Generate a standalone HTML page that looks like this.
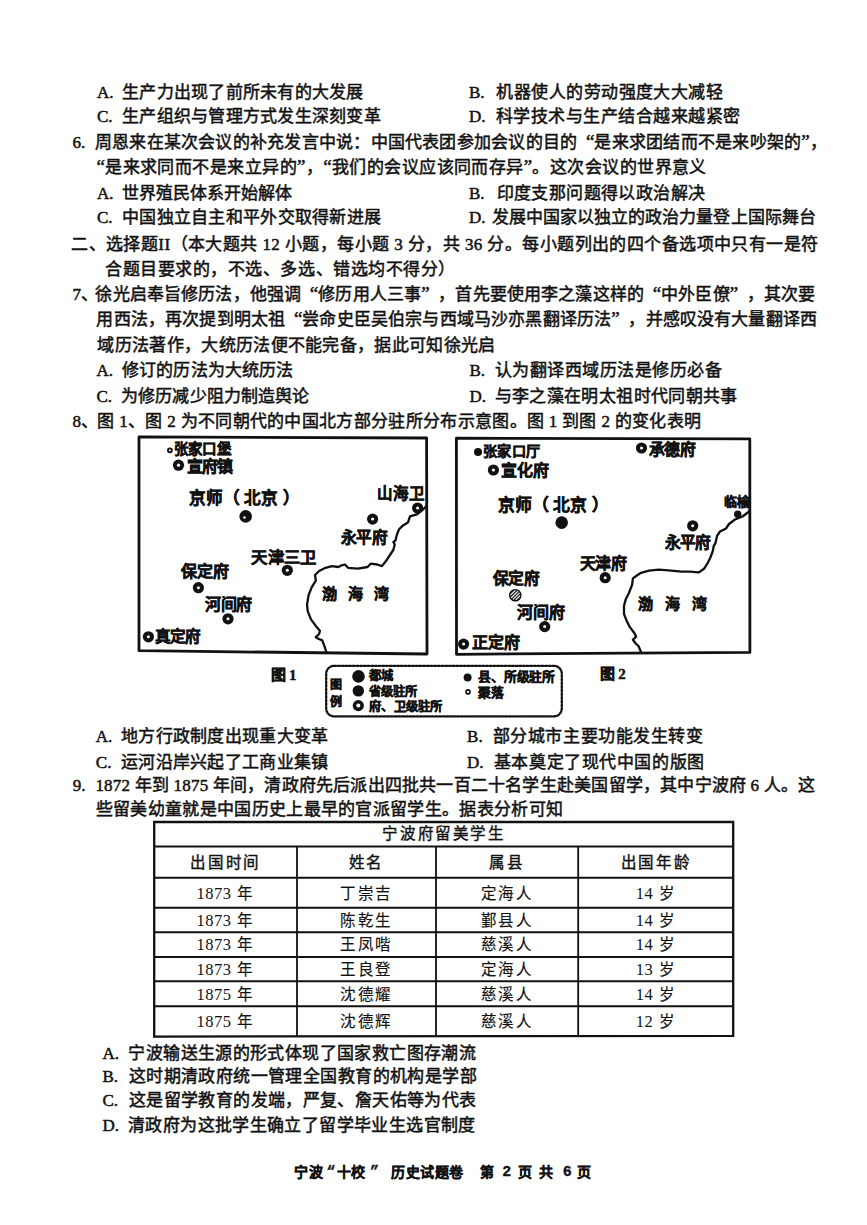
<!DOCTYPE html>
<html lang="zh-CN">
<head>
<meta charset="utf-8">
<style>
html,body{margin:0;padding:0;background:#fff;}
body{width:867px;height:1225px;position:relative;overflow:hidden;color:#111;font-family:"Liberation Serif",serif;}
.l{position:absolute;white-space:nowrap;font-size:17px;line-height:20px;font-weight:400;-webkit-text-stroke:0.5px #111;}
.k{display:inline-block;width:26px;font-family:"Liberation Serif",serif;font-weight:400;letter-spacing:0;-webkit-text-stroke:0.5px #111;}
.n{display:inline-block;width:24px;font-family:"Liberation Serif",serif;font-weight:400;letter-spacing:0;-webkit-text-stroke:0.5px #111;}
.ql{display:inline-block;text-align:right;letter-spacing:0;font-size:19px;line-height:0;}
.qr{display:inline-block;text-align:left;letter-spacing:0;font-size:19px;line-height:0;}
.d{font-family:"Liberation Serif",serif;font-weight:400;-webkit-text-stroke:0.5px #111;}
.m{position:absolute;white-space:nowrap;font-family:"Liberation Sans",sans-serif;font-weight:700;line-height:1;-webkit-text-stroke:0.45px #111;}
.t{position:absolute;white-space:nowrap;font-size:15.5px;line-height:18px;letter-spacing:1.6px;font-weight:400;-webkit-text-stroke:0.15px #111;text-align:center;}
.th{-webkit-text-stroke:0.4px #111;}
.td{font-family:"Liberation Serif",serif;font-weight:400;letter-spacing:0.5px;font-size:16.5px;-webkit-text-stroke:0;}
svg{position:absolute;left:0;top:0;}
.f{position:absolute;white-space:nowrap;font-family:"Liberation Sans",sans-serif;font-weight:700;line-height:1;font-size:14px;-webkit-text-stroke:0.3px #111;}
.fd{font-family:"Liberation Mono",monospace;font-size:15px;font-weight:700;}
</style>
</head>
<body>
<svg width="867" height="1225" viewBox="0 0 867 1225">
<defs>
<pattern id="hatch" width="2.4" height="2.4" patternUnits="userSpaceOnUse" patternTransform="rotate(45)"><rect width="1.2" height="2.4" fill="#111"/></pattern>
</defs>
<g fill="none" stroke="#111" stroke-linejoin="round" stroke-linecap="round">
<!-- map 1 box -->
<path d="M139 436.8 L426.6 438 L427 654 L139 650.7 Z" stroke-width="2.8"/>
<!-- map 1 coast -->
<path d="M426.5 506 L422.4 510.1 L416.9 514.3 L410 516.4 L407.9 522.6 L403 525.4 L398.9 529.5 L396.8 535 L395.4 540.6 L393.4 542 L394.7 544.7 L393.3 550 L386.9 559.7 L382 566.1 L377.2 564.5 L370.7 563.7 L367.5 567 L357.8 568.6 L348.1 567.8 L344.9 564.5 L341.7 565.3 L338.4 567 L332 566.1 L325.5 567.8 L319.1 571 L315 575 L315.8 580.7 L311.8 587.1 L308.6 595.2 L307 604.9 L307.8 611.4 L311 619.4 L315.8 625.9 L319.9 630.7 L319.1 634 L315.8 637.2 L318.3 638.8 L322.3 640.4 L324.7 646.9 L326.3 652" stroke-width="2.3"/>
<!-- map 2 box -->
<path d="M456.4 438.2 L749.8 438.8 L749.9 652.4 L456.5 654.3 Z" stroke-width="2.8"/>
<!-- map 2 coast -->
<path d="M749.7 510 L748.5 512 L742.5 516.5 L735 519.5 L729 524 L726 528.5 L720 531.5 L717 536 L715.5 542.9 L713.7 546.1 L712.8 551 L710.4 557.5 L707.2 563.9 L704 568.8 L699.1 572.3 L689.4 571.7 L681.4 571.7 L668.4 570.4 L658.8 569.6 L649.1 570.7 L641 572.8 L636.1 576 L632.9 578.4 L632.1 584.9 L628.9 593 L625.7 599.4 L624 605.9 L624 614 L626.5 620.4 L629.7 626.9 L634.5 633.3 L636.1 636.6 L632.9 639.8 L635.3 643 L638.6 646.3 L641 652" stroke-width="2.3"/>
<!-- legend box -->
<rect x="326.2" y="665.8" width="235.6" height="50.6" rx="8" stroke-width="2.3" stroke-dasharray="2 1.7"/>
</g>
<!-- table -->
<g stroke="#111" fill="none">
<path d="M154.2 822 L733.2 822 L733.2 1035.8 L154.2 1036.6 Z" stroke-width="2.3"/>
<line x1="154.3" y1="846.5" x2="733.2" y2="846.5" stroke-width="2"/>
<line x1="154.3" y1="877.8" x2="733.2" y2="877.8" stroke-width="2"/>
<line x1="154.3" y1="907.8" x2="733.2" y2="907.8" stroke-width="2"/>
<line x1="154.3" y1="932.2" x2="733.2" y2="932.2" stroke-width="2"/>
<line x1="154.3" y1="957" x2="733.2" y2="957" stroke-width="2"/>
<line x1="154.3" y1="981.3" x2="733.2" y2="981.3" stroke-width="2"/>
<line x1="154.3" y1="1006.2" x2="733.2" y2="1006.2" stroke-width="2"/>
<line x1="297" y1="846.5" x2="297" y2="1036.5" stroke-width="1.8"/>
<line x1="436" y1="846.5" x2="436" y2="1036.5" stroke-width="1.8"/>
<line x1="578.2" y1="846.5" x2="578.2" y2="1036.5" stroke-width="1.8"/>
</g>
<!-- symbols -->
<g fill="#111">
<!-- rings (府卫级): outer r5.3 black with white center r1.9 -->
<g id="rings">
<circle cx="178.5" cy="465.2" r="5.6"/><circle cx="287.3" cy="570.3" r="5.6"/><circle cx="198.4" cy="587.7" r="5.6"/>
<circle cx="228" cy="618.8" r="5.6"/><circle cx="148.4" cy="636.8" r="5.6"/><circle cx="417.6" cy="508" r="5.6"/><circle cx="372.6" cy="519.1" r="5.6"/>
<circle cx="493.4" cy="470" r="5.6"/><circle cx="641.5" cy="448" r="5.6"/><circle cx="692.7" cy="525.8" r="5.6"/><circle cx="605.2" cy="577.7" r="5.6"/>
<circle cx="544.7" cy="626.6" r="5.6"/><circle cx="463.6" cy="644.1" r="5.6"/>
<circle cx="358.3" cy="705.6" r="5.6"/>
</g>
<!-- capital -->
<circle cx="245.7" cy="516.4" r="6.3"/><circle cx="561.7" cy="522.6" r="6.3"/>
<!-- county dots -->
<circle cx="478" cy="452" r="4"/><circle cx="737.7" cy="514.2" r="3.7"/><circle cx="467.6" cy="677.4" r="4"/>
<!-- legend capital and province -->
<circle cx="358.5" cy="676.4" r="6.3"/><circle cx="358.3" cy="690.9" r="5.7"/>
</g>
<g fill="#fff">
<circle cx="178.5" cy="465.2" r="1.6"/><circle cx="287.3" cy="570.3" r="1.5"/><circle cx="198.4" cy="587.7" r="1.5"/>
<circle cx="228" cy="618.8" r="1.5"/><circle cx="148.4" cy="636.8" r="1.5"/><circle cx="417.6" cy="508" r="1.5"/><circle cx="372.6" cy="519.1" r="1.5"/>
<circle cx="493.4" cy="470" r="1.5"/><circle cx="641.5" cy="448" r="1.5"/><circle cx="692.7" cy="525.8" r="1.5"/><circle cx="605.2" cy="577.7" r="1.5"/>
<circle cx="544.7" cy="626.6" r="1.5"/><circle cx="463.6" cy="644.1" r="1.5"/>
<circle cx="358.3" cy="705.6" r="2"/>
<circle cx="244.5" cy="517.5" r="1.2"/>
</g>
<!-- hatched province (map2 保定府) -->
<circle cx="515.3" cy="595.2" r="5.6" fill="url(#hatch)" stroke="#111" stroke-width="1.4"/>
<!-- small rings (聚落) -->
<circle cx="169.9" cy="450.3" r="1.95" fill="#fff" stroke="#111" stroke-width="1.9"/>
<circle cx="468" cy="691.9" r="1.95" fill="#fff" stroke="#111" stroke-width="1.7"/>
</svg>

<div class="l" id="L1A" style="left:97.00px;top:83.10px;letter-spacing:0.259px"><span class="k" style="width:25.0px">A.</span>生产力出现了前所未有的大发展</div>
<div class="l" id="L1B" style="left:469.00px;top:83.10px;letter-spacing:0.451px"><span class="k" style="width:27.4px">B.</span>机器使人的劳动强度大大减轻</div>
<div class="l" id="L2C" style="left:97.00px;top:107.00px;letter-spacing:0.255px"><span class="k" style="width:25.0px">C.</span>生产组织与管理方式发生深刻变革</div>
<div class="l" id="L2D" style="left:469.00px;top:107.00px;letter-spacing:0.482px"><span class="k" style="width:27.0px">D.</span>科学技术与生产结合越来越紧密</div>
<div class="l" id="L3" style="left:72.50px;top:132.72px;letter-spacing:0.227px"><span class="n" style="width:22.4px">6.</span>周恩来在某次会议的补充发言中说：中国代表团参加会议的目的<span class="ql" style="width:17.23px">“</span>是来求团结而不是来吵架的<span class="qr" style="width:8.61px">”</span>，</div>
<div class="l" id="L4" style="left:96.40px;top:158.10px;letter-spacing:0.441px"><span class="qr" style="width:8.72px">“</span>是来求同而不是来立异的<span class="qr" style="width:8.72px">”</span>，<span class="qr" style="width:8.72px">“</span>我们的会议应该同而存异<span class="qr" style="width:8.72px">”</span>。这次会议的世界意义</div>
<div class="l" id="L5A" style="left:97.00px;top:184.28px;letter-spacing:0.051px"><span class="k" style="width:25.0px">A.</span>世界殖民体系开始解体</div>
<div class="l" id="L5B" style="left:469.00px;top:184.28px;letter-spacing:0.406px"><span class="k" style="width:27.5px">B.</span>印度支那问题得以政治解决</div>
<div class="l" id="L6C" style="left:97.00px;top:208.10px;letter-spacing:0.283px"><span class="k" style="width:25.0px">C.</span>中国独立自主和平外交取得新进展</div>
<div class="l" id="L6D" style="left:469.00px;top:208.10px;letter-spacing:0.036px"><span class="k" style="width:23.0px">D.</span>发展中国家以独立的政治力量登上国际舞台</div>
<div class="l" id="L7" style="left:71.20px;top:234.64px;letter-spacing:0.433px">二、选择题<span class="d">II</span>（本大题共 <span class="d">12</span> 小题，每小题 <span class="d">3</span> 分，共 <span class="d">36</span> 分。每小题列出的四个备选项中只有一是符</div>
<div class="l" id="L8" style="left:105.00px;top:260.46px;letter-spacing:0.543px">合题目要求的，不选、多选、错选均不得分）</div>
<div class="l" id="L9" style="left:72.50px;top:285.36px;letter-spacing:0.144px"><span class="n" style="width:22.9px">7、</span>徐光启奉旨修历法，他强调<span class="ql" style="width:17.14px">“</span>修历用人三事<span class="qr" style="width:17.14px">”</span>，首先要使用李之藻这样的<span class="ql" style="width:17.14px">“</span>中外臣僚<span class="qr" style="width:17.14px">”</span>，其次要</div>
<div class="l" id="L10" style="left:96.40px;top:310.46px;letter-spacing:0.160px">用西法，再次提到明太祖<span class="ql" style="width:17.16px">“</span>尝命史臣吴伯宗与西域马沙亦黑翻译历法<span class="qr" style="width:17.16px">”</span>，并感叹没有大量翻译西</div>
<div class="l" id="L11" style="left:97.40px;top:336.10px;letter-spacing:0.315px">域历法著作，大统历法便不能完备，据此可知徐光启</div>
<div class="l" id="L12A" style="left:96.50px;top:361.28px;letter-spacing:0.080px"><span class="k" style="width:25.7px">A.</span>修订的历法为大统历法</div>
<div class="l" id="L12B" style="left:469.40px;top:361.28px;letter-spacing:0.501px"><span class="k" style="width:25.2px">B.</span>认为翻译西域历法是修历必备</div>
<div class="l" id="L13C" style="left:96.50px;top:386.72px;letter-spacing:0.087px"><span class="k" style="width:24.7px">C.</span>为修历减少阻力制造舆论</div>
<div class="l" id="L13D" style="left:469.40px;top:386.72px;letter-spacing:0.368px"><span class="k" style="width:25.2px">D.</span>与李之藻在明太祖时代同朝共事</div>
<div class="l" id="L14" style="left:72.40px;top:412.10px;letter-spacing:0.315px"><span class="n" style="width:24.9px">8、</span>图 <span class="d">1</span>、图 <span class="d">2</span> 为不同朝代的中国北方部分驻所分布示意图。图 <span class="d">1</span> 到图 <span class="d">2</span> 的变化表明</div>
<div class="l" id="L15A" style="left:95.80px;top:726.54px;letter-spacing:0.313px"><span class="k" style="width:25.1px">A.</span>地方行政制度出现重大变革</div>
<div class="l" id="L15B" style="left:467.10px;top:726.54px;letter-spacing:0.534px"><span class="k" style="width:25.8px">B.</span>部分城市主要功能发生转变</div>
<div class="l" id="L16C" style="left:95.80px;top:752.82px;letter-spacing:0.313px"><span class="k" style="width:25.1px">C.</span>运河沿岸兴起了工商业集镇</div>
<div class="l" id="L16D" style="left:467.10px;top:752.82px;letter-spacing:0.572px"><span class="k" style="width:26.8px">D.</span>基本奠定了现代中国的版图</div>
<div class="l" id="L17" style="left:72.70px;top:776.10px;letter-spacing:0.204px"><span class="n" style="width:22.7px">9.</span><span class="d">1872</span> 年到 <span class="d">1875</span> 年间，清政府先后派出四批共一百二十名学生赴美国留学，其中宁波府 <span class="d">6</span> 人。这</div>
<div class="l" id="L18" style="left:95.60px;top:800.46px;letter-spacing:0.326px">些留美幼童就是中国历史上最早的官派留学生。据表分析可知</div>
<div class="l" id="LA" style="left:102.50px;top:1043.54px;letter-spacing:0.384px"><span class="k" style="width:25.9px">A.</span>宁波输送生源的形式体现了国家救亡图存潮流</div>
<div class="l" id="LB" style="left:102.50px;top:1067.10px;letter-spacing:0.420px"><span class="k" style="width:26.2px">B.</span>这时期清政府统一管理全国教育的机构是学部</div>
<div class="l" id="LC" style="left:102.50px;top:1091.00px;letter-spacing:0.367px"><span class="k" style="width:26.5px">C.</span>这是留学教育的发端，严复、詹天佑等为代表</div>
<div class="l" id="LD" style="left:102.50px;top:1116.00px;letter-spacing:0.386px"><span class="k" style="width:25.5px">D.</span>清政府为这批学生确立了留学毕业生选官制度</div>
<div class="m" id="m0" style="left:173.6px;top:442.0px;font-size:14.5px;;letter-spacing:0.40px;">张家口堡</div>
<div class="m" id="m1" style="left:186.9px;top:459.1px;font-size:16px;;letter-spacing:-0.80px;">宣府镇</div>
<div class="m" id="m2" style="left:189.4px;top:491.1px;font-size:16.6px;;">京师<span style="margin-right:3.5px">（</span>北京<span style="margin-left:5px">）</span></div>
<div class="m" id="m3" style="left:251.2px;top:549.2px;font-size:16.4px;;letter-spacing:0.40px;">天津三卫</div>
<div class="m" id="m4" style="left:180.5px;top:564.3px;font-size:16px;;letter-spacing:0.20px;">保定府</div>
<div class="m" id="m5" style="left:205.1px;top:597.2px;font-size:16px;;letter-spacing:-0.30px;">河间府</div>
<div class="m" id="m6" style="left:155.4px;top:628.5px;font-size:15.6px;;letter-spacing:-1.10px;">真定府</div>
<div class="m" id="m7" style="left:376.7px;top:485.5px;font-size:15.5px;;letter-spacing:0.40px;">山海卫</div>
<div class="m" id="m8" style="left:340.8px;top:529.9px;font-size:15.7px;;letter-spacing:-0.50px;">永平府</div>
<div class="m" id="m9" style="left:321.9px;top:585.7px;font-size:15px;letter-spacing:11px;font-weight:700;-webkit-text-stroke:0.4px #111;">渤海湾</div>
<div class="m" id="m10" style="left:482.8px;top:444.4px;font-size:14.2px;;letter-spacing:0.47px;">张家口厅</div>
<div class="m" id="m11" style="left:501.4px;top:462.7px;font-size:16px;;letter-spacing:-0.20px;">宣化府</div>
<div class="m" id="m12" style="left:498.2px;top:497.6px;font-size:16.8px;;">京师<span style="margin-right:3.5px">（</span>北京<span style="margin-left:5px">）</span></div>
<div class="m" id="m13" style="left:648.5px;top:441.8px;font-size:15.8px;;letter-spacing:-0.20px;">承德府</div>
<div class="m" id="m14" style="left:723.6px;top:494.6px;font-size:13px;;">临榆</div>
<div class="m" id="m15" style="left:664.9px;top:535.4px;font-size:15.7px;;letter-spacing:-0.80px;">永平府</div>
<div class="m" id="m16" style="left:579.5px;top:556.4px;font-size:16px;;letter-spacing:-0.20px;">天津府</div>
<div class="m" id="m17" style="left:492.5px;top:571.3px;font-size:15.7px;;letter-spacing:-0.30px;">保定府</div>
<div class="m" id="m18" style="left:516.8px;top:605.2px;font-size:16px;;letter-spacing:0.30px;">河间府</div>
<div class="m" id="m19" style="left:472.1px;top:635.1px;font-size:16px;;letter-spacing:0.20px;">正定府</div>
<div class="m" id="m20" style="left:638.2px;top:595.9px;font-size:15px;letter-spacing:12px;font-weight:700;-webkit-text-stroke:0.4px #111;">渤海湾</div>
<div class="m" id="m21" style="left:271.1px;top:666.5px;font-size:15px;;letter-spacing:2.80px;">图<span style="font-family:Liberation Serif,serif">1</span></div>
<div class="m" id="m22" style="left:599.9px;top:666.4px;font-size:15px;;letter-spacing:3.40px;">图<span style="font-family:Liberation Serif,serif">2</span></div>
<div class="m" id="m23" style="left:330.4px;top:678.8px;font-size:12px;;">图</div>
<div class="m" id="m24" style="left:330.4px;top:695.7px;font-size:12px;;">例</div>
<div class="m" id="m25" style="left:368.9px;top:669.8px;font-size:12.3px;;">都城</div>
<div class="m" id="m26" style="left:368.9px;top:685.7px;font-size:12.3px;;">省级驻所</div>
<div class="m" id="m27" style="left:368.9px;top:700.6px;font-size:12.3px;;letter-spacing:0.32px;">府、卫级驻所</div>
<div class="m" id="m28" style="left:478.1px;top:671.2px;font-size:12.8px;;letter-spacing:-0.16px;">县、所级驻所</div>
<div class="m" id="m29" style="left:478.1px;top:686.9px;font-size:12.8px;;">聚落</div>
<div class="t th" style="left:154.3px;width:579.5px;top:825.2px">宁波府留美学生</div>
<div class="t th" style="left:154.3px;width:142.7px;top:853.9px">出国时间</div>
<div class="t th" style="left:297.0px;width:139.0px;top:853.9px">姓名</div>
<div class="t th" style="left:436.0px;width:142.2px;top:853.9px">属县</div>
<div class="t th" style="left:578.2px;width:155.6px;top:853.9px">出国年龄</div>
<div class="t" style="left:154.3px;width:142.7px;top:884.6px"><span class="td">1873</span> 年</div>
<div class="t" style="left:297.0px;width:139.0px;top:884.6px">丁崇吉</div>
<div class="t" style="left:436.0px;width:142.2px;top:884.6px">定海人</div>
<div class="t" style="left:578.2px;width:155.6px;top:884.6px"><span class="td">14</span> 岁</div>
<div class="t" style="left:154.3px;width:142.7px;top:911.8px"><span class="td">1873</span> 年</div>
<div class="t" style="left:297.0px;width:139.0px;top:911.8px">陈乾生</div>
<div class="t" style="left:436.0px;width:142.2px;top:911.8px">鄞县人</div>
<div class="t" style="left:578.2px;width:155.6px;top:911.8px"><span class="td">14</span> 岁</div>
<div class="t" style="left:154.3px;width:142.7px;top:936.4px"><span class="td">1873</span> 年</div>
<div class="t" style="left:297.0px;width:139.0px;top:936.4px">王凤喈</div>
<div class="t" style="left:436.0px;width:142.2px;top:936.4px">慈溪人</div>
<div class="t" style="left:578.2px;width:155.6px;top:936.4px"><span class="td">14</span> 岁</div>
<div class="t" style="left:154.3px;width:142.7px;top:960.9px"><span class="td">1873</span> 年</div>
<div class="t" style="left:297.0px;width:139.0px;top:960.9px">王良登</div>
<div class="t" style="left:436.0px;width:142.2px;top:960.9px">定海人</div>
<div class="t" style="left:578.2px;width:155.6px;top:960.9px"><span class="td">13</span> 岁</div>
<div class="t" style="left:154.3px;width:142.7px;top:985.5px"><span class="td">1875</span> 年</div>
<div class="t" style="left:297.0px;width:139.0px;top:985.5px">沈德耀</div>
<div class="t" style="left:436.0px;width:142.2px;top:985.5px">慈溪人</div>
<div class="t" style="left:578.2px;width:155.6px;top:985.5px"><span class="td">14</span> 岁</div>
<div class="t" style="left:154.3px;width:142.7px;top:1013.1px"><span class="td">1875</span> 年</div>
<div class="t" style="left:297.0px;width:139.0px;top:1013.1px">沈德辉</div>
<div class="t" style="left:436.0px;width:142.2px;top:1013.1px">慈溪人</div>
<div class="t" style="left:578.2px;width:155.6px;top:1013.1px"><span class="td">12</span> 岁</div>
<div class="f" style="left:294.2px;top:1164.5px;letter-spacing:0.4px">宁波</div>
<div class="f fd" style="left:326.5px;top:1164.5px">“</div>
<div class="f" style="left:336.6px;top:1164.5px;letter-spacing:0.4px">十校</div>
<div class="f fd" style="left:370.0px;top:1164.5px">”</div>
<div class="f" style="left:391.0px;top:1164.5px;letter-spacing:0.6px">历史试题卷</div>
<div class="f" style="left:480.4px;top:1164.5px;letter-spacing:0px">第</div>
<div class="f fd" style="left:502.3px;top:1164.5px">2</div>
<div class="f" style="left:517.5px;top:1164.5px;letter-spacing:0px">页</div>
<div class="f" style="left:539.3px;top:1164.5px;letter-spacing:0px">共</div>
<div class="f fd" style="left:562.8px;top:1164.5px">6</div>
<div class="f" style="left:577.3px;top:1164.5px;letter-spacing:0px">页</div>
</body>
</html>
